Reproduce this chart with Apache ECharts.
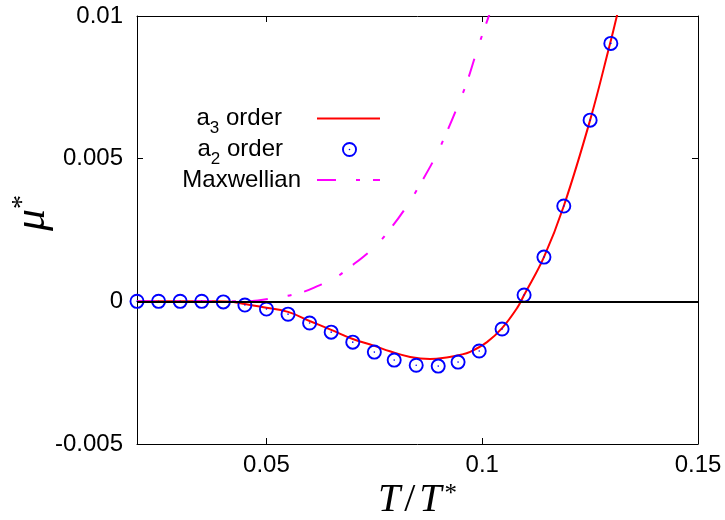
<!DOCTYPE html>
<html>
<head>
<meta charset="utf-8">
<script src="https://cdn.jsdelivr.net/npm/echarts@6/dist/echarts.min.js"></script>
<style>
  html, body { margin: 0; padding: 0; background: #fff; }
  #chart { width: 725px; height: 520px; }
</style>
</head>
<body>
<div id="chart"></div>
<script>
// a3-order solution: temperature T/T* and chemical potential mu*
const a3T  = [0.020, 0.030, 0.038, 0.041, 0.045, 0.049, 0.055, 0.060, 0.065, 0.070, 0.075, 0.0786, 0.0833, 0.0879, 0.0921, 0.0948, 0.0972, 0.1011, 0.1046, 0.1081, 0.1097, 0.1143, 0.1189, 0.1250, 0.1296, 0.1312, 0.1325];
const a3Mu = [0, 0, 0, -0.00001, -0.00009, -0.0002, -0.00037, -0.00069, -0.001, -0.00132, -0.00156, -0.00175, -0.00195, -0.00202, -0.00196, -0.00188, -0.00177, -0.00143, -0.00094, -0.00023, 0.00022, 0.00155, 0.00334, 0.00635, 0.00902, 0.01, 0.0108];

// a2-order solution (points)
const a2T  = [0.020, 0.025, 0.030, 0.035, 0.040, 0.045, 0.050, 0.055, 0.060, 0.065, 0.070, 0.075, 0.0796, 0.0847, 0.0898, 0.0944, 0.0993, 0.1046, 0.1097, 0.1143, 0.1189, 0.1250, 0.1298];
const a2Mu = [0, 0, 0, 0, -0.00002, -0.00013, -0.00027, -0.00045, -0.00076, -0.00108, -0.00143, -0.00178, -0.00206, -0.00224, -0.00227, -0.00213, -0.00174, -0.00097, 0.00022, 0.00155, 0.00334, 0.00635, 0.00904];

// Maxwellian reference curve
const maxT  = [0.020, 0.030, 0.040, 0.0446, 0.0531, 0.0585, 0.0624, 0.0652, 0.0698, 0.0752, 0.0786, 0.0828, 0.0856, 0.0891, 0.0914, 0.0942, 0.0965, 0.0988, 0.1006, 0.1013, 0.1022];
const maxMu = [0, 0, 0, 0, 0.00015, 0.00033, 0.00057, 0.00075, 0.00125, 0.00193, 0.00252, 0.0034, 0.0041, 0.00505, 0.0058, 0.0068, 0.0077, 0.0088, 0.0096, 0.0099, 0.0103];

const seriesNames = ['a3 order', 'a2 order', 'Maxwellian'];
const xTickValues = [0.05, 0.1, 0.15];
const yTickValues = [-0.005, 0, 0.005, 0.01];
const xRange = [0.02, 0.15];
const yRange = [-0.005, 0.01];

const pairs = (xs, ys) => xs.map((x, i) => [x, ys[i]]);

// ring with a centre dot
const ringDot = 'path://M0,-7.5A7.5,7.5,0,1,1,0,7.5A7.5,7.5,0,1,1,0,-7.5Z' +
  'M0,-5.6A5.6,5.6,0,1,0,0,5.6A5.6,5.6,0,1,0,0,-5.6Z' +
  'M0,-0.8A0.8,0.8,0,1,1,0,0.8A0.8,0.8,0,1,1,0,-0.8Z';

const sans = 'Liberation Sans, Arial, sans-serif';
const serif = 'Liberation Serif, Times New Roman, serif';

const frameAxis = {
  axisLine: { show: true, onZero: false, lineStyle: { color: '#000', width: 1 } },
  axisTick: { show: true, inside: true, length: 6, lineStyle: { color: '#000', width: 1 } },
  splitLine: { show: false }
};

// one key entry per legend block so each row sits at its own height
const legendRich = {
  t: { fontFamily: sans, fontSize: 24, color: '#000', lineHeight: 26 },
  ta: { fontFamily: sans, fontSize: 24, color: '#000', lineHeight: 26, padding: [0, 30, 0, 0] },
  tm: { fontFamily: sans, fontSize: 24, color: '#000', lineHeight: 26, padding: [0, 11, 0, 0] },
  s: { fontFamily: sans, fontSize: 17, color: '#000', lineHeight: 26, padding: [20, 0, 0, 0] }
};
function legendBlock(name, top, right, hideSymbol) {
  return {
    data: [hideSymbol ? { name: name, itemStyle: { opacity: 0 } } : name],
    orient: 'vertical',
    align: 'right',
    right: right,
    top: top,
    padding: 0,
    itemWidth: 63,
    itemHeight: 15,
    selectedMode: false,
    formatter: function (n) {
      if (n === 'a3 order') return '{t|a}{s|3}{ta| order}';
      if (n === 'a2 order') return '{t|a}{s|2}{ta| order}';
      return '{tm|' + n + '}';
    },
    textStyle: { color: '#000', fontFamily: sans, fontSize: 24, rich: legendRich }
  };
}
const legends = [
  legendBlock(seriesNames[0], 100, 344, true),
  legendBlock(seriesNames[1], 131, 368, false),
  legendBlock(seriesNames[2], 168, 344, true)
];

const chart = echarts.init(document.getElementById('chart'), null, { renderer: 'canvas' });

chart.setOption({
  animation: false,
  backgroundColor: '#fff',
  grid: { left: 137, top: 16, width: 561, height: 428, outerBoundsMode: 'none', containLabel: false },
  legend: legends,
  xAxis: [
    Object.assign({}, frameAxis, {
      type: 'value',
      position: 'bottom',
      min: xRange[0],
      max: xRange[1],
      axisTick: Object.assign({}, frameAxis.axisTick, { customValues: xTickValues }),
      axisLabel: {
        customValues: xTickValues,
        formatter: v => String(v),
        color: '#000', fontFamily: sans, fontSize: 24, margin: 9
      },
      name: '{i|T}{r|/}{i|T}{sup|*}',
      nameLocation: 'middle',
      nameGap: 36,
      nameMoveOverlap: false,
      nameTextStyle: {
        rich: {
          i: { fontFamily: serif, fontStyle: 'italic', fontSize: 40, color: '#000', lineHeight: 40 },
          r: { fontFamily: serif, fontSize: 40, color: '#000', lineHeight: 40, padding: [0, 4, 0, 4] },
          sup: { fontFamily: serif, fontSize: 25, color: '#000', lineHeight: 40, padding: [0, 0, 12, 3] }
        }
      }
    }),
    Object.assign({}, frameAxis, {
      type: 'value',
      position: 'top',
      min: xRange[0],
      max: xRange[1],
      axisTick: Object.assign({}, frameAxis.axisTick, { customValues: xTickValues }),
      axisLabel: { show: false }
    })
  ],
  yAxis: [
    Object.assign({}, frameAxis, {
      type: 'value',
      position: 'left',
      min: yRange[0],
      max: yRange[1],
      axisTick: Object.assign({}, frameAxis.axisTick, { customValues: yTickValues }),
      axisLabel: {
        customValues: yTickValues,
        formatter: v => String(v),
        color: '#000', fontFamily: sans, fontSize: 24, margin: 14
      },
      name: '{i|\u03bc}{sup|*}',
      nameLocation: 'middle',
      nameRotate: 90,
      nameGap: 83,
      nameMoveOverlap: false,
      nameTextStyle: {
        padding: [0, 0, 0, 34],
        rich: {
          i: { fontFamily: serif, fontStyle: 'italic', fontSize: 44, color: '#000', lineHeight: 44 },
          sup: { fontFamily: serif, fontSize: 28, color: '#000', lineHeight: 44, padding: [0, 0, 18, 0] }
        }
      }
    }),
    Object.assign({}, frameAxis, {
      type: 'value',
      position: 'right',
      min: yRange[0],
      max: yRange[1],
      axisTick: Object.assign({}, frameAxis.axisTick, { customValues: yTickValues }),
      axisLabel: { show: false }
    })
  ],
  series: [
    {
      name: seriesNames[0],
      type: 'line',
      data: pairs(a3T, a3Mu),
      symbol: 'none',
      showSymbol: false,
      smooth: 0.4,
      clip: true,
      z: 2,
      lineStyle: { color: '#ff0000', width: 2 },
      itemStyle: { color: '#ff0000' }
    },
    {
      name: seriesNames[2],
      type: 'line',
      data: pairs(maxT, maxMu),
      symbol: 'none',
      showSymbol: false,
      smooth: 0.4,
      clip: true,
      z: 2,
      lineStyle: { color: '#ff00ff', width: 2, type: [19, 20, 4, 13], cap: 'butt' },
      itemStyle: { color: '#ff00ff' }
    },
    {
      // horizontal zero line
      name: 'zero',
      type: 'line',
      data: [],
      z: 3,
      markLine: {
        silent: true,
        symbol: 'none',
        label: { show: false },
        lineStyle: { color: '#000', width: 2, type: 'solid' },
        data: [{ yAxis: 0 }]
      }
    },
    {
      name: seriesNames[1],
      type: 'scatter',
      data: pairs(a2T, a2Mu),
      symbol: ringDot,
      symbolSize: 15,
      symbolKeepAspect: true,
      z: 4,
      itemStyle: { color: '#0000ff', borderWidth: 0, opacity: 1 }
    }
  ]
});
</script>
</body>
</html>
